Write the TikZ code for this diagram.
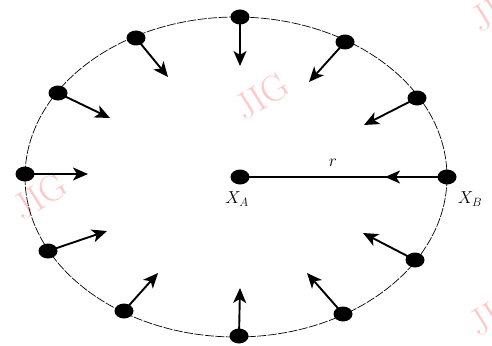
\documentclass[tikz,border=0pt]{standalone}
\usetikzlibrary{arrows.meta,shapes.geometric}
\begin{document}
\begin{tikzpicture}[x=1pt,y=-1pt,
 dot/.style={ellipse,fill=black,inner sep=0pt,minimum width=19pt,minimum height=15pt},
 arr/.style={line width=1.9pt,-{Stealth[length=15pt,width=13pt,inset=4pt]}},
 wm/.style={text=red!22,font=\fontsize{37}{37}\selectfont,rotate=32,inner sep=0pt},
 lbl/.style={font=\fontsize{17}{17}\selectfont,inner sep=1pt}]
\useasboundingbox (0,0) rectangle (492,345);
% watermarks
\node[wm] (w1) at (262,96) {JIG};
\node[wm] (w2) at (40,196) {JIG};
\node[wm] (w3) at (498,8) {JIG};
\node[wm] (w4) at (496,312) {JIG};
% boundary
\draw[line width=0.7pt,dash pattern=on 9pt off 1.5pt] (236,177) ellipse [x radius=211, y radius=160];
% dots
\node[dot] (d1) at (240,17) {};
\node[dot] (d2) at (345,42) {};
\node[dot] (d3) at (417,98) {};
\node[dot] (B) at (447,177) {};
\node[dot] (d5) at (415,260) {};
\node[dot] (d6) at (343,314) {};
\node[dot] (d7) at (239,336) {};
\node[dot] (d8) at (124,311) {};
\node[dot] (d9) at (48,251) {};
\node[dot] (d10) at (25,174) {};
\node[dot] (d11) at (58,93) {};
\node[dot] (d12) at (136,38) {};
\node[dot] (A) at (240,177) {};
% tips
\coordinate (t1) at (240,66);
\coordinate (t2) at (309,82);
\coordinate (t3) at (364,125);
\coordinate (tB) at (385,177);
\coordinate (t5) at (363,233);
\coordinate (t6) at (307,273);
\coordinate (t7) at (240,288);
\coordinate (t8) at (158,273);
\coordinate (t9) at (107,231);
\coordinate (t10) at (88,174);
\coordinate (t11) at (110,118);
\coordinate (t12) at (168,77);
\foreach \i in {1,2,3,5,6,7,8,9,10,11,12} {\draw[arr] (d\i.center) -- (t\i);}
\draw[line width=1.6pt] (A.center) -- (B.center);
\draw[arr] (B.center) -- (tB);
% labels
\node[lbl] (lA) at (237,199) {$X_A$};
\node[lbl] (lB) at (470,199) {$X_B$};
\node[lbl] (lr) at (333,163) {$r$};
\end{tikzpicture}
\end{document}
